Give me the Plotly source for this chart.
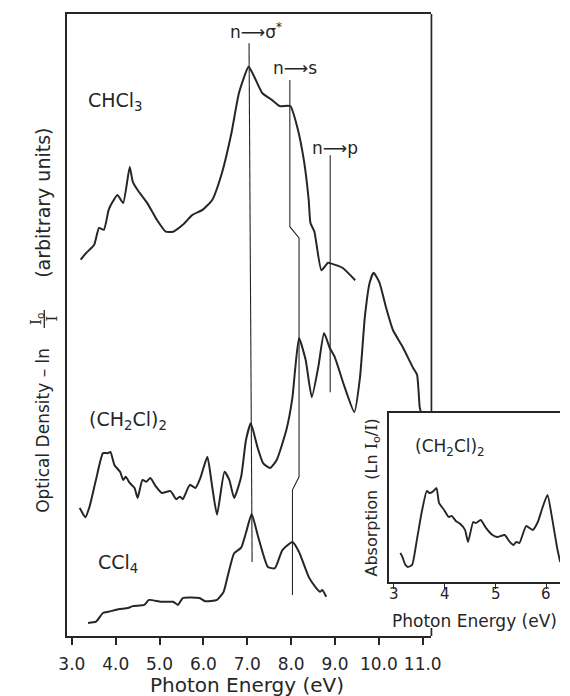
import plotly.graph_objects as go

# ---- spectra (photon energy in eV, optical density in arbitrary units) ----
chcl3_ev = [3.20, 3.33, 3.51, 3.62, 3.73, 3.84, 3.93, 4.04, 4.17, 4.32, 4.39, 4.50, 4.72,
            4.94, 5.14, 5.31, 5.53, 5.75, 5.98, 6.20, 6.42, 6.64, 6.81, 7.03, 7.14, 7.34,
            7.56, 7.74, 7.98, 8.14, 8.29, 8.40, 8.44, 8.53, 8.69, 8.84, 8.99, 9.17, 9.46]
chcl3_od = [6.05, 6.16, 6.29, 6.56, 6.53, 6.85, 6.98, 7.09, 6.96, 7.54, 7.30, 7.17, 6.96,
            6.69, 6.50, 6.50, 6.61, 6.77, 6.85, 7.01, 7.44, 8.09, 8.73, 9.15, 9.02, 8.73,
            8.62, 8.52, 8.52, 8.18, 7.65, 7.01, 6.64, 6.50, 5.88, 6.00, 5.97, 5.92, 5.72]

dce_ev = [3.18, 3.24, 3.31, 3.40, 3.55, 3.71, 3.82, 3.88, 3.97, 4.10, 4.17, 4.23, 4.32,
          4.43, 4.50, 4.61, 4.70, 4.79, 4.92, 5.05, 5.25, 5.38, 5.47, 5.53, 5.69, 5.82,
          5.93, 6.09, 6.20, 6.31, 6.48, 6.59, 6.70, 6.86, 6.97, 7.08, 7.23, 7.36, 7.52,
          7.67, 7.89, 8.03, 8.09, 8.18, 8.33, 8.47, 8.62, 8.75, 8.88, 8.99, 9.22, 9.44,
          9.57, 9.68, 9.79, 9.88, 10.01, 10.16, 10.32, 10.54, 10.78, 10.87, 10.93, 10.96]
dce_od = [2.06, 1.98, 1.91, 2.07, 2.51, 2.94, 2.94, 2.96, 2.75, 2.64, 2.51, 2.56, 2.46,
          2.38, 2.22, 2.51, 2.48, 2.54, 2.40, 2.30, 2.33, 2.20, 2.24, 2.20, 2.43, 2.38,
          2.54, 2.88, 2.40, 1.95, 2.64, 2.51, 2.22, 2.56, 3.15, 3.42, 3.04, 2.78, 2.70,
          2.83, 3.31, 3.84, 4.28, 4.79, 4.44, 3.84, 4.33, 4.87, 4.63, 4.49, 4.00, 3.60,
          4.16, 5.13, 5.68, 5.84, 5.69, 5.29, 4.92, 4.65, 4.31, 4.20, 3.68, 3.59]

ccl4_ev = [3.37, 3.55, 3.71, 3.84, 4.06, 4.28, 4.39, 4.65, 4.76, 5.03, 5.31, 5.42, 5.53,
           5.91, 6.04, 6.31, 6.46, 6.57, 6.70, 6.86, 6.97, 7.10, 7.25, 7.47, 7.63, 7.80,
           8.03, 8.18, 8.40, 8.55, 8.66, 8.71, 8.80]
ccl4_od = [0.21, 0.23, 0.37, 0.39, 0.43, 0.45, 0.48, 0.50, 0.58, 0.55, 0.55, 0.50, 0.61,
           0.61, 0.56, 0.58, 0.71, 1.01, 1.33, 1.42, 1.66, 1.96, 1.59, 1.11, 1.09, 1.38,
           1.51, 1.35, 0.95, 0.79, 0.71, 0.74, 0.63]

# low-energy absorption of (CH2Cl)2 (inset)
inset_ev = [3.13, 3.17, 3.23, 3.28, 3.36, 3.46, 3.55, 3.65, 3.70, 3.76, 3.84, 3.89, 3.99,
            4.08, 4.14, 4.22, 4.31, 4.40, 4.46, 4.56, 4.61, 4.71, 4.80, 4.94, 5.03, 5.18,
            5.28, 5.35, 5.41, 5.47, 5.60, 5.73, 5.83, 5.92, 6.02, 6.11, 6.21, 6.27]
inset_abs = [1.72, 1.48, 1.01, 0.89, 1.01, 2.60, 4.14, 5.39, 5.27, 5.33, 5.56, 4.68, 4.26,
             3.85, 3.91, 3.61, 3.43, 3.08, 2.37, 3.55, 3.49, 3.67, 3.25, 2.78, 2.66, 2.78,
             2.37, 2.19, 2.37, 2.31, 3.31, 3.08, 3.55, 4.38, 5.15, 3.79, 2.01, 1.18]

# transition marker lines (eV, arbitrary units)
sigma_ev = [7.04, 7.11]
sigma_od = [9.53, 1.19]
ns_ev = [7.97, 7.97, 8.18, 8.18, 8.03, 8.03]
ns_od = [8.94, 6.58, 6.40, 2.56, 2.35, 0.66]
np_ev = [8.89, 8.89]
np_od = [7.73, 3.92]

main_ticks = [3, 4, 5, 6, 7, 8, 9, 10, 11]
main_ticktext = ["3.0", "4.0", "5.0", "6.0", "7.0", "8.0", "9.0", "10.0", "11.0"]
inset_ticks = [3, 4, 5, 6]
inset_ticktext = ["3", "4", "5", "6"]

W, H = 570, 696
INK = "#262626"
FONT = "DejaVu Sans"
SERIF_I = '<span style="font-family:DejaVu Serif">I</span>'


def px(x):
    return x / W


def py(y):
    return 1 - y / H


fig = go.Figure()

for xs, ys in [(chcl3_ev, chcl3_od), (dce_ev, dce_od), (ccl4_ev, ccl4_od)]:
    fig.add_trace(go.Scatter(x=xs, y=ys, mode="lines",
                             line=dict(color=INK, width=2, shape="spline", smoothing=0.5),
                             xaxis="x", yaxis="y", hoverinfo="skip"))

for xs, ys in [(sigma_ev, sigma_od), (ns_ev, ns_od), (np_ev, np_od)]:
    fig.add_trace(go.Scatter(x=xs, y=ys, mode="lines",
                             line=dict(color=INK, width=1.1), xaxis="x", yaxis="y",
                             hoverinfo="skip"))

fig.add_trace(go.Scatter(x=inset_ev, y=inset_abs, mode="lines",
                         line=dict(color=INK, width=1.9, shape="spline", smoothing=0.5),
                         xaxis="x2", yaxis="y2", hoverinfo="skip"))

axis_common = dict(showgrid=False, zeroline=False, linecolor=INK, linewidth=1.7,
                   showline=True)

fig.update_layout(
    width=W, height=H, autosize=False,
    margin=dict(l=0, r=0, t=0, b=0),
    paper_bgcolor="white", plot_bgcolor="rgba(0,0,0,0)",
    showlegend=False,
    font=dict(family=FONT, color=INK, size=16),
    xaxis=dict(domain=[px(60), px(437)], range=[2.89, 11.198], anchor="y",
               tickvals=main_ticks, ticktext=main_ticktext, ticks="outside",
               ticklen=7, tickwidth=1.5, tickcolor=INK, mirror=True,
               ticklabelstandoff=5, tickfont=dict(size=17, family=FONT, color=INK),
               **axis_common),
    yaxis=dict(domain=[py(636), py(14)], range=[0, 10], anchor="x",
               showticklabels=False, ticks="", **axis_common),
    xaxis2=dict(domain=[px(393), 1.0], range=[2.905, 6.266], anchor="y2",
                tickvals=inset_ticks, ticks="outside", ticklen=5, tickwidth=1.4,
                tickcolor=INK, mirror=True, showticklabels=False, **axis_common),
    yaxis2=dict(domain=[py(582), py(413)], range=[0, 10], anchor="x2",
                showticklabels=False, ticks="", **axis_common),
)

# inset tick labels, set close under the short ticks
for val, txt in zip(inset_ticks, inset_ticktext):
    fig.add_annotation(text=txt, x=val, xref="x2", y=py(594), yref="paper",
                       xanchor="center", yanchor="middle", showarrow=False,
                       font=dict(size=15, family=FONT, color=INK))

# right edge of the main frame, interrupted by the inset
fig.add_shape(type="line", xref="paper", yref="paper",
              x0=px(437), x1=px(437), y0=py(14), y1=py(411),
              line=dict(color=INK, width=1.7))
fig.add_shape(type="line", xref="paper", yref="paper",
              x0=px(437), x1=px(437), y0=py(628), y1=py(636),
              line=dict(color=INK, width=1.7))
# fraction bar of I0/I in the y-axis title
fig.add_shape(type="line", xref="paper", yref="paper",
              x0=px(36.5), x1=px(36.5), y0=py(310), y1=py(328),
              line=dict(color=INK, width=1.3))


def label(text, x, y, size=17, angle=0):
    fig.add_annotation(text=text, x=px(x), y=py(y), xref="paper", yref="paper",
                       xanchor="center", yanchor="middle", showarrow=False,
                       textangle=angle, font=dict(size=size, family=FONT, color=INK))


label("CHCl<sub>3</sub>", 110, 101, size=19)
label("(CH<sub>2</sub>Cl)<sub>2</sub>", 123, 420, size=19)
label("CCl<sub>4</sub>", 113, 563, size=19)
label("n\u27f6\u03c3<sup>*</sup>", 256, 31, size=17)
label("n\u27f6s", 296, 68, size=17)
label("n\u27f6p", 337, 148, size=17)

label("Photon Energy (eV)", 246, 685, size=20)

label("Optical Density \u2013 ln", 35, 430, size=17, angle=-90)
label(SERIF_I + "<sub>o</sub>", 29, 319, size=15, angle=-90)
label(SERIF_I, 44, 319, size=15, angle=-90)
label("(arbitrary units)", 35, 203, size=19, angle=-90)

# inset texts
label("(CH<sub>2</sub>Cl)<sub>2</sub>", 456, 447, size=17)
label("Absorption  (Ln " + SERIF_I + "<sub>o</sub>/" + SERIF_I + ")", 375, 498, size=16,
      angle=-90)
label("Photon Energy (eV)", 482, 621, size=17)

fig.write_html("out.html")
